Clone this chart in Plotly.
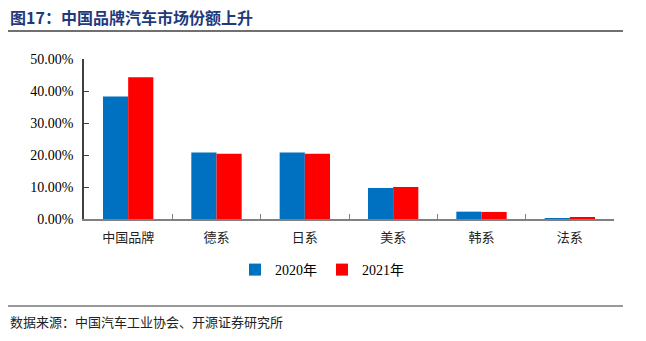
import plotly.graph_objects as go

categories = ["中国品牌", "德系", "日系", "美系", "韩系", "法系"]
share_2020 = [38.3, 20.8, 20.8, 9.7, 2.3, 0.3]
share_2021 = [44.3, 20.4, 20.4, 10.0, 2.2, 0.4]
series_names = ["2020年", "2021年"]
y_ticks = [0, 10, 20, 30, 40, 50]
y_tick_labels = [f"{v:.2f}%" for v in y_ticks]

title_text = "图17：中国品牌汽车市场份额上升"
source_text = "数据来源：中国汽车工业协会、开源证券研究所"

W, H = 646, 341
L, R, T, B = 84, 32, 59, 122
pw, ph = W - L - R, H - T - B

def px_x(x):
    return (x - L) / pw

def px_y(y):
    return (H - B - y) / ph

fig = go.Figure()
fig.add_trace(go.Bar(x=categories, y=share_2020, name=series_names[0],
                     marker=dict(color="#0070C0", line=dict(width=0))))
fig.add_trace(go.Bar(x=categories, y=share_2021, name=series_names[1],
                     marker=dict(color="#FF0000", line=dict(width=0))))

serif = "Liberation Serif, Times New Roman, serif"
cjk = "Noto Sans CJK SC, sans-serif"

fig.update_layout(
    width=W, height=H,
    margin=dict(l=L, r=R, t=T, b=B),
    paper_bgcolor="white", plot_bgcolor="white",
    barmode="group", bargap=0.43, bargroupgap=0,
    showlegend=True,
    legend=dict(orientation="h", x=px_x(322), y=px_y(270), xanchor="center", yanchor="middle",
                font=dict(family=serif + ", " + cjk, size=14, color="#000"),
                itemwidth=30, traceorder="normal", tracegroupgap=0),
    xaxis=dict(type="category", showline=True, linecolor="#808080", linewidth=1.5,
               ticks="inside", ticklen=5, tickcolor="#808080", tickson="boundaries",
               ticklabelstandoff=6,
               tickfont=dict(family=cjk, size=13, color="#222"), showgrid=False),
    yaxis=dict(range=[0, 50], tickvals=y_ticks, ticktext=y_tick_labels,
               showline=True, linecolor="#404040", linewidth=1.5,
               ticks="inside", ticklen=5, tickcolor="#404040", ticklabelstandoff=6,
               tickfont=dict(family=serif, size=14, color="#000"),
               showgrid=False, zeroline=False),
    annotations=[
        dict(text=title_text, xref="paper", yref="paper", x=px_x(8), y=px_y(17),
             xanchor="left", yanchor="middle", showarrow=False,
             font=dict(family=cjk, size=16, color="#1F3A7A", weight="bold")),
        dict(text=source_text, xref="paper", yref="paper", x=px_x(8), y=px_y(321),
             xanchor="left", yanchor="middle", showarrow=False,
             font=dict(family=cjk, size=13, color="#222")),
    ],
    shapes=[
        dict(type="line", xref="paper", yref="paper", x0=px_x(8), x1=px_x(623),
             y0=px_y(31), y1=px_y(31), line=dict(color="#707070", width=2)),
        dict(type="line", xref="paper", yref="paper", x0=px_x(8), x1=px_x(623),
             y0=px_y(306), y1=px_y(306), line=dict(color="#333333", width=1)),
    ],
)

fig.write_html("out.html")
